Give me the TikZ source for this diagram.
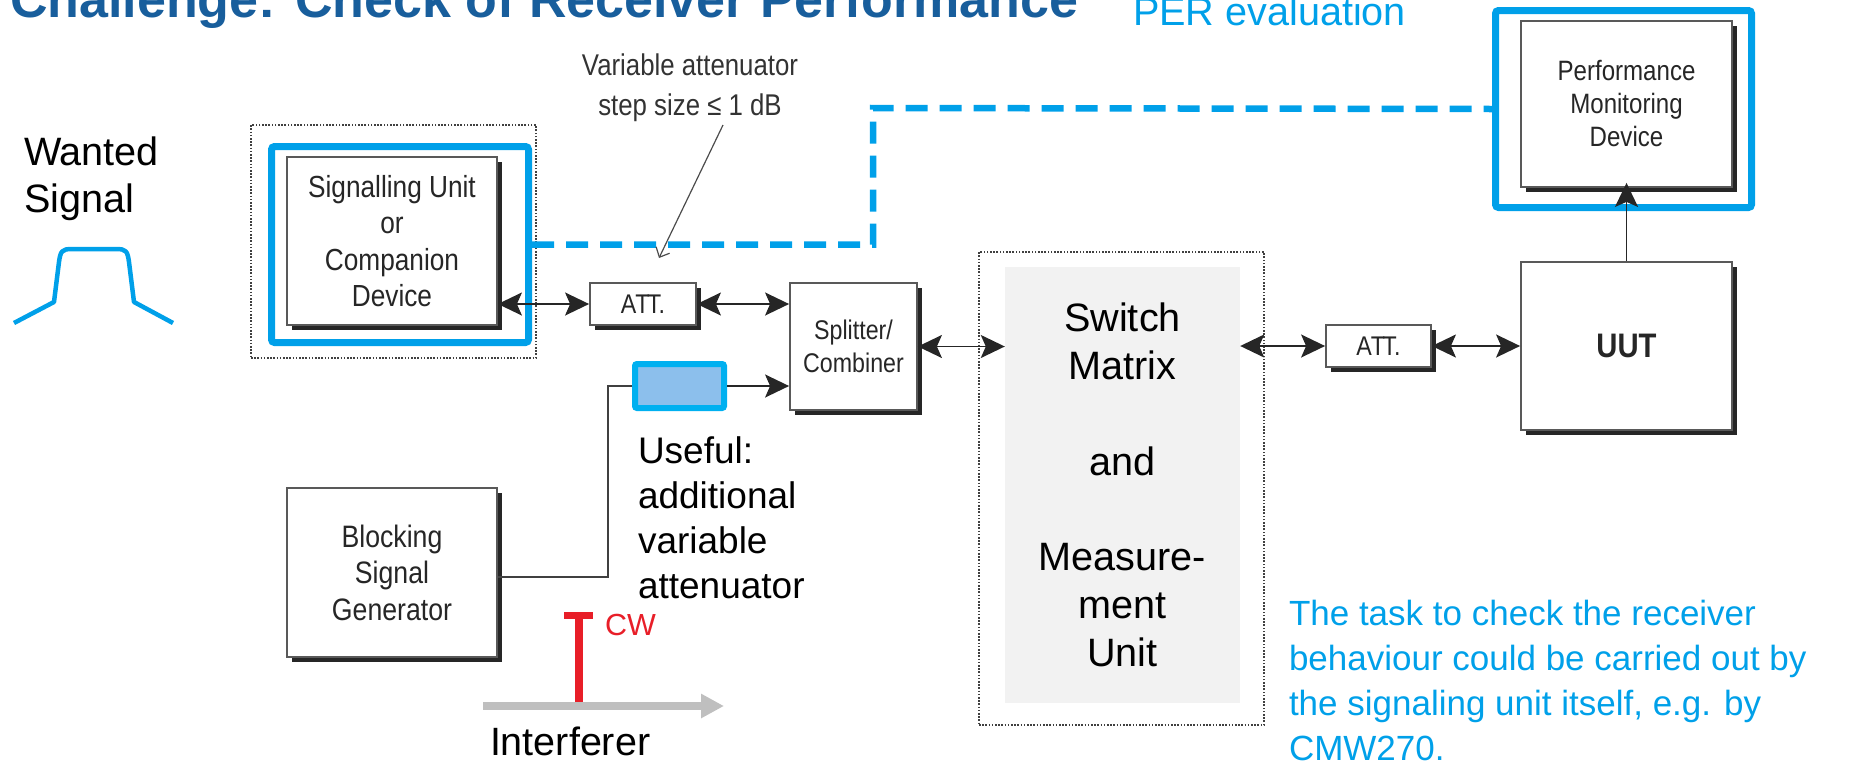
\documentclass[tikz,border=0pt]{standalone}
\usepackage{fontspec}
\setmainfont{Liberation Sans}
\newfontfamily\narrowsans[FakeStretch=0.86]{Liberation Sans}
\usetikzlibrary{arrows.meta,shadows,calc}

\definecolor{titleblue}{RGB}{24,94,156}
\definecolor{skyblue}{RGB}{0,160,233}
\definecolor{attfill}{RGB}{140,191,236}
\definecolor{attframe}{RGB}{0,176,240}
\definecolor{cwred}{RGB}{232,30,40}
\definecolor{interf}{RGB}{191,191,191}
\definecolor{swfill}{RGB}{242,242,242}

% stacked lines whose reference point is the first baseline
\newcommand\leftstack[1]{\vtop{\halign{##\hfil\cr#1\crcr}}}
\newcommand\centerstack[1]{\vtop{\halign{\hfil##\hfil\cr#1\crcr}}}

\begin{document}
\begin{tikzpicture}[x=1pt,y=-1pt,
  unitbox/.style={draw=black!65, line width=1.8pt, fill=white, inner sep=0pt,
    align=center, text=black!85,
    drop shadow={shadow xshift=5pt, shadow yshift=-5pt, opacity=1, fill=black!85}},
  boxfont/.style 2 args={font=\narrowsans\fontsize{#1}{#2}\selectfont},
  dotframe/.style={draw=black!75, line width=1.6pt, dash pattern=on 1.6pt off 1.6pt, inner sep=0pt},
  blueframe/.style={draw=skyblue, line width=7pt, rounded corners=3pt, inner sep=0pt},
  duplex/.style={draw=black!85, line width=1.8pt,
    {Stealth[length=24pt,width=23pt,inset=5pt]}-{Stealth[length=24pt,width=23pt,inset=5pt]}},
  simplex/.style={draw=black!85, line width=1.8pt, -{Stealth[length=24pt,width=23pt,inset=5pt]}},
  wire/.style={draw=black!75, line width=1.6pt},
  bluedash/.style={draw=skyblue, line width=6.5pt, dash pattern=on 22pt off 12pt},
  pointer/.style={draw=black!70, line width=1.2pt, -{Straight Barb[length=8pt,width=15pt]}},
  txt/.style={inner sep=0pt, outer sep=0pt},
  wavepath/.style={draw=skyblue, line width=4.5pt, line join=round}
]
\useasboundingbox (0,0) rectangle (1860,761);

% headings
\node[txt, anchor=base west, text=titleblue, font=\bfseries\fontsize{52}{60}\selectfont]
  (title) at (10,17) {Challenge: Check of Receiver Performance};
\node[txt, anchor=base west, text=skyblue, font=\fontsize{39.6}{46}\selectfont]
  (per) at (1133,25) {PER evaluation};

% wanted signal
\node[txt, anchor=base west, font=\fontsize{39.6}{47}\selectfont] (wanted) at (24,165)
  {\leftstack{Wanted\cr Signal}};
\draw[wavepath] (14,323) -- (54,302) -- (59,262) .. controls (60.5,251) and (62,249) .. (72,249)
  -- (116,249) .. controls (126,249) and (127.5,251) .. (129,262) -- (134,302) -- (173,323);

% signalling unit
\node[dotframe, minimum width=285pt, minimum height=233pt] (sigdots) at (393.5,241.5) {};
\node[unitbox, boxfont={30.5}{36.5}, minimum width=210pt, minimum height=168pt] (sig) at (392,241)
  {Signalling Unit\\or\\Companion\\Device};
\node[blueframe, minimum width=257pt, minimum height=196pt] (sigframe) at (400,244.5) {};

% attenuators, splitter, blocking generator
\node[unitbox, boxfont={27}{32}, minimum width=106pt, minimum height=42pt] (att1) at (643,304)
  {A\kern-1ptT\kern-2.5ptT.};
\node[unitbox, boxfont={27}{33}, minimum width=127pt, minimum height=127pt] (split) at (853.5,346.5)
  {Splitter/\\Combiner};
\node[draw=attframe, fill=attfill, line width=6pt, rounded corners=2pt,
  minimum width=89pt, minimum height=44pt, inner sep=0pt] (batt) at (679.5,386) {};
\node[unitbox, boxfont={31}{36.5}, minimum width=210pt, minimum height=169pt] (block) at (392,572.5)
  {Blocking\\Signal\\Generator};

% switch matrix
\node[dotframe, minimum width=285pt, minimum height=473pt] (swdots) at (1121.5,488.5) {};
\node[fill=swfill, inner sep=0pt, minimum width=235pt, minimum height=436pt, align=center,
  font=\fontsize{39.6}{47.8}\selectfont] (sw) at (1122.5,485)
  {Switch\\Matrix\\[47.8pt]and\\[47.8pt]Measure-\\ment\\Unit};

% unit under test side
\node[unitbox, boxfont={27}{32}, minimum width=105pt, minimum height=42pt] (att2) at (1378.5,346)
  {A\kern-1ptT\kern-2.5ptT.};
\node[unitbox, font=\narrowsans\bfseries\fontsize{34}{40}\selectfont,
  minimum width=211pt, minimum height=168pt] (uut) at (1626.5,346) {UUT};
\node[unitbox, boxfont={28}{33}, minimum width=211pt, minimum height=166pt] (pmd) at (1626.5,104)
  {Performance\\Monitoring\\Device};
\node[blueframe, minimum width=256pt, minimum height=197pt] (pmdframe) at (1623.5,109) {};

% PER evaluation path
\coordinate (dk) at (873,108);
\draw[bluedash] (sigframe.east) -| (dk) -- (pmdframe.west);

% attenuator note
\node[txt, anchor=base, text=black!80, font=\narrowsans\fontsize{30}{40}\selectfont]
  (varlbl) at (690,75) {\centerstack{Variable attenuator\cr step size ≤ 1 dB}};
\coordinate (ptip) at (659,258);
\draw[pointer] ($(varlbl.base)+(33,50)$) -- (ptip);

% signal connections
\draw[duplex] (sig.east |- att1.west) -- (att1.west);
\draw[duplex] (att1.east) -- (att1.east -| split.west);
\draw[simplex] (batt.east) -- (batt.east -| split.west);
\draw[wire] ($(block.east)+(0,4.5)$) -| ($(batt.west)+(-24,0)$) -- (batt.west);
\draw[duplex] (split.east) -- (split.east -| sw.west);
\draw[duplex] (sw.east |- att2.west) -- (att2.west);
\draw[duplex] (att2.east) -- (att2.east -| uut.west);
\draw[simplex, shorten >=-5pt] (uut.north) -- (pmd.south);

% useful note
\node[txt, anchor=base west, font=\fontsize{37}{45}\selectfont] (useful) at (638,463)
  {\leftstack{Useful:\cr additional\cr variable\cr attenuator}};

% interferer
\coordinate (ia) at (483,706);
\coordinate (ib) at (724,706);
\draw[interf, line width=8pt, -{Triangle[length=23pt,width=23pt]}] (ia) -- (ib);
\coordinate (cwfoot) at (579,702);
\coordinate (cwtop) at (579,612);
\draw[cwred, line width=7.5pt] (cwfoot) -- (cwtop);
\draw[cwred, line width=7pt] ($(cwtop)+(-15,3.5)$) -- ($(cwtop)+(14,3.5)$);
\node[txt, anchor=base west, text=cwred, font=\fontsize{30.5}{36}\selectfont] (cw) at (605,635) {CW};
\node[txt, anchor=base west, font=\fontsize{39.5}{46}\selectfont] (interferer) at (490,755) {Interferer};

% remark
\node[txt, anchor=base west, text=skyblue, font=\fontsize{35}{45}\selectfont] (task) at (1289,625)
  {\leftstack{The task to check the receiver\cr behaviour could be carried out by\cr
   the signaling unit itself, e.g. by\cr CMW270.}};
\end{tikzpicture}
\end{document}
